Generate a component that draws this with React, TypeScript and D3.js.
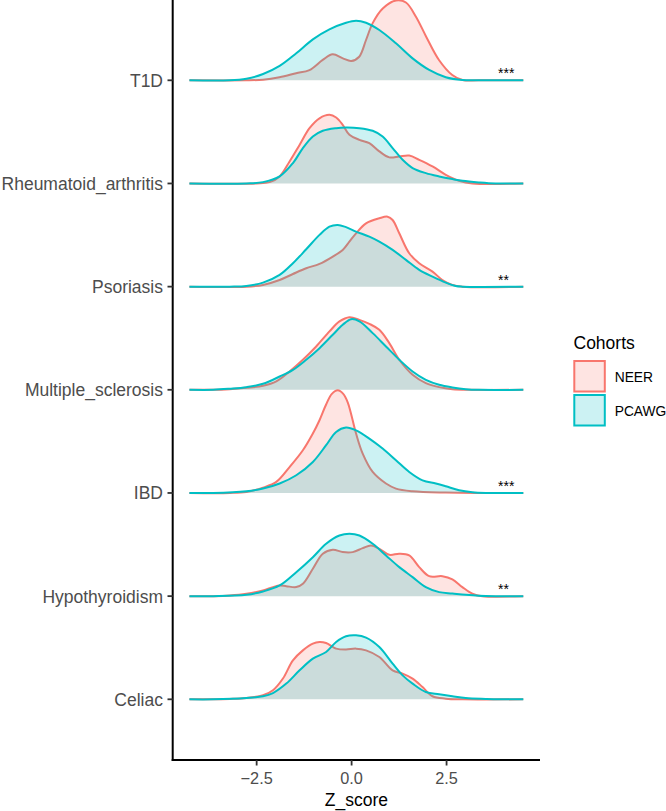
import React from "react";
import * as d3 from "d3";

const categories = ["T1D", "Rheumatoid_arthritis", "Psoriasis", "Multiple_sclerosis", "IBD", "Hypothyroidism", "Celiac"];
const cohorts = ["NEER", "PCAWG"];
const cohortColors = ["#F8766D", "#00BFC4"];
const xTicks = [-2.5, 0, 2.5];
const xTickLabels = ["\u22122.5", "0.0", "2.5"];
const sigLabels = ["***", "", "**", "", "***", "**", ""];
const dataRange = [-4.27, 4.52];

type P = [number, number];

const neerT1D: P[] = [[-2.77, 0], [-2.33, 0.005], [-1.9, 0.023], [-1.46, 0.053], [-1.11, 0.077], [-0.76, 0.153], [-0.5, 0.195], [-0.23, 0.165], [-0.01, 0.145], [0.2, 0.177], [0.38, 0.303], [0.555, 0.43], [0.82, 0.54], [1.17, 0.6], [1.43, 0.585], [1.69, 0.48], [1.96, 0.33], [2.3, 0.153], [2.65, 0.04], [2.92, 0.002], [3.35, 0]];
const pcawgT1D: P[] = [[-3.21, 0], [-2.77, 0.012], [-2.33, 0.047], [-1.895, 0.108], [-1.457, 0.203], [-1.02, 0.308], [-0.584, 0.383], [-0.147, 0.433], [0.117, 0.448], [0.38, 0.433], [0.73, 0.378], [1.168, 0.278], [1.606, 0.165], [2.043, 0.078], [2.48, 0.023], [2.92, 0.002], [3.4, 0]];

const neerRA: P[] = [[-2.507, 0], [-2.157, 0.01], [-1.895, 0.053], [-1.633, 0.165], [-1.37, 0.29], [-1.108, 0.416], [-0.845, 0.49], [-0.583, 0.516], [-0.407, 0.496], [-0.234, 0.441], [-0.058, 0.366], [0.205, 0.328], [0.467, 0.303], [0.73, 0.241], [0.992, 0.196], [1.255, 0.203], [1.517, 0.21], [1.78, 0.178], [2.13, 0.128], [2.48, 0.065], [2.83, 0.02], [3.18, 0]];
const pcawgRA: P[] = [[-2.77, 0], [-2.333, 0.01], [-1.895, 0.053], [-1.545, 0.153], [-1.283, 0.266], [-1.02, 0.353], [-0.758, 0.396], [-0.407, 0.416], [-0.147, 0.421], [0.205, 0.416], [0.555, 0.396], [0.817, 0.353], [1.08, 0.266], [1.343, 0.178], [1.606, 0.116], [1.955, 0.078], [2.305, 0.053], [2.654, 0.033], [2.92, 0.02], [3.35, 0.008], [3.79, 0]];

const neerPso: P[] = [[-2.77, 0], [-2.333, 0.013], [-1.895, 0.05], [-1.545, 0.095], [-1.195, 0.138], [-0.845, 0.171], [-0.496, 0.226], [-0.234, 0.276], [-0.058, 0.338], [0.117, 0.401], [0.38, 0.476], [0.73, 0.514], [0.948, 0.526], [1.08, 0.501], [1.255, 0.401], [1.517, 0.251], [1.78, 0.176], [2.13, 0.113], [2.39, 0.05], [2.654, 0.013], [2.92, 0]];
const pcawgPso: P[] = [[-3.21, 0], [-2.77, 0.005], [-2.333, 0.03], [-1.895, 0.088], [-1.545, 0.176], [-1.195, 0.281], [-0.845, 0.389], [-0.584, 0.451], [-0.365, 0.464], [-0.147, 0.447], [0.117, 0.414], [0.467, 0.376], [0.73, 0.338], [1.08, 0.276], [1.43, 0.201], [1.78, 0.126], [2.13, 0.075], [2.48, 0.03], [2.74, 0.005], [2.92, 0]];

const neerMS: P[] = [[-3.645, 0], [-3.21, 0.005], [-2.77, 0.015], [-2.333, 0.03], [-1.983, 0.063], [-1.633, 0.138], [-1.283, 0.226], [-0.933, 0.326], [-0.583, 0.439], [-0.32, 0.514], [-0.058, 0.546], [0.205, 0.526], [0.467, 0.496], [0.73, 0.451], [0.992, 0.351], [1.255, 0.226], [1.606, 0.113], [1.955, 0.05], [2.305, 0.02], [2.654, 0.005], [3.09, 0]];
const pcawgMS: P[] = [[-3.645, 0], [-3.21, 0.008], [-2.77, 0.02], [-2.333, 0.045], [-1.895, 0.1], [-1.545, 0.15], [-1.195, 0.226], [-0.845, 0.313], [-0.496, 0.414], [-0.234, 0.489], [-0.013, 0.531], [0.205, 0.514], [0.555, 0.426], [0.905, 0.326], [1.255, 0.226], [1.606, 0.138], [1.955, 0.075], [2.305, 0.038], [2.654, 0.018], [3.005, 0.005], [3.35, 0]];

const neerIBD: P[] = [[-3.2, 0], [-2.77, 0.008], [-2.333, 0.04], [-1.983, 0.083], [-1.633, 0.195], [-1.283, 0.321], [-1.02, 0.447], [-0.845, 0.547], [-0.671, 0.665], [-0.52, 0.745], [-0.365, 0.772], [-0.22, 0.745], [-0.1, 0.68], [0.117, 0.447], [0.292, 0.296], [0.555, 0.158], [0.905, 0.071], [1.168, 0.033], [1.606, 0.013], [2.48, 0.003], [3.35, 0]];
const pcawgIBD: P[] = [[-3.645, 0], [-2.77, 0.013], [-2.333, 0.033], [-1.895, 0.071], [-1.457, 0.133], [-1.02, 0.233], [-0.671, 0.359], [-0.407, 0.459], [-0.147, 0.492], [0.117, 0.471], [0.467, 0.409], [0.817, 0.334], [1.168, 0.246], [1.517, 0.158], [1.868, 0.095], [2.218, 0.071], [2.48, 0.05], [2.83, 0.02], [3.18, 0.005], [3.53, 0]];

const neerHypo: P[] = [[-3.6, 0], [-3.21, 0.005], [-2.77, 0.018], [-2.333, 0.043], [-2.07, 0.068], [-1.895, 0.08], [-1.72, 0.075], [-1.457, 0.068], [-1.283, 0.093], [-1.02, 0.206], [-0.758, 0.319], [-0.496, 0.349], [-0.234, 0.331], [0.03, 0.331], [0.292, 0.361], [0.511, 0.381], [0.73, 0.356], [0.992, 0.311], [1.255, 0.319], [1.517, 0.306], [1.78, 0.218], [2.043, 0.15], [2.39, 0.15], [2.654, 0.126], [2.916, 0.068], [3.18, 0.018], [3.44, 0]];
const pcawgHypo: P[] = [[-3.645, 0], [-2.77, 0.01], [-2.333, 0.035], [-1.895, 0.08], [-1.457, 0.18], [-1.02, 0.293], [-0.671, 0.394], [-0.32, 0.456], [-0.058, 0.469], [0.205, 0.456], [0.555, 0.394], [0.905, 0.306], [1.255, 0.218], [1.606, 0.143], [1.955, 0.068], [2.305, 0.03], [2.654, 0.02], [3.005, 0.01], [3.35, 0.003], [3.79, 0]];

const neerCeliac: P[] = [[-3.645, 0], [-3.21, 0.003], [-2.77, 0.01], [-2.333, 0.03], [-2.07, 0.068], [-1.808, 0.156], [-1.545, 0.293], [-1.283, 0.368], [-1.02, 0.419], [-0.845, 0.431], [-0.671, 0.423], [-0.407, 0.381], [-0.147, 0.374], [0.117, 0.381], [0.38, 0.368], [0.73, 0.318], [1.08, 0.218], [1.343, 0.193], [1.606, 0.156], [1.868, 0.092], [2.13, 0.023], [2.48, 0.005], [2.92, 0]];
const pcawgCeliac: P[] = [[-3.645, 0], [-2.77, 0.01], [-2.333, 0.023], [-2.07, 0.047], [-1.72, 0.118], [-1.37, 0.218], [-1.02, 0.306], [-0.671, 0.356], [-0.407, 0.431], [-0.147, 0.474], [0.117, 0.481], [0.38, 0.464], [0.73, 0.393], [1.08, 0.268], [1.343, 0.18], [1.606, 0.118], [1.955, 0.055], [2.305, 0.038], [2.654, 0.023], [3.005, 0.01], [3.53, 0.003], [3.88, 0]];

const neerSeries: P[][] = [neerT1D, neerRA, neerPso, neerMS, neerIBD, neerHypo, neerCeliac];
const pcawgSeries: P[][] = [pcawgT1D, pcawgRA, pcawgPso, pcawgMS, pcawgIBD, pcawgHypo, pcawgCeliac];

const W = 666;
const H = 811;
const FONT = "'Liberation Sans', Arial, Helvetica, sans-serif";

export default function App() {
  const x = d3.scaleLinear().domain([-4.71, 4.96]).range([172.7, 540]);
  const y = d3.scalePoint<string>().domain(categories).range([80.3, 699.3]);
  const h = d3.scaleLinear().domain([0, 1]).range([0, 133]);

  const full = (pts: P[]): P[] => {
    const out: P[] = [];
    if (pts[0][0] > dataRange[0]) out.push([dataRange[0], 0]);
    out.push(...pts);
    if (pts[pts.length - 1][0] < dataRange[1]) out.push([dataRange[1], 0]);
    return out;
  };

  const curve = d3.curveCatmullRom.alpha(0.5);

  const ridges: React.ReactNode[] = [];
  categories.forEach((cat, i) => {
    const base = y(cat) as number;
    const top = (d: P) => Math.min(base, base - h(d[1]));
    const area = d3
      .area<P>()
      .x((d) => x(d[0]))
      .y0(base)
      .y1(top)
      .curve(curve);
    const line = d3
      .line<P>()
      .x((d) => x(d[0]))
      .y(top)
      .curve(curve);
    [neerSeries[i], pcawgSeries[i]].forEach((s, j) => {
      const pts = full(s);
      ridges.push(
        <g key={cat + j}>
          <path d={area(pts) || ""} fill={cohortColors[j]} fillOpacity={0.2} stroke="none" />
          <path d={line(pts) || ""} fill="none" stroke={cohortColors[j]} strokeWidth={2} strokeLinejoin="round" />
        </g>
      );
    });
  });

  return (
    <svg width={W} height={H} style={{ position: "absolute", left: 0, top: 0, background: "#fff" }} fontFamily={FONT}>
      <rect x={0} y={0} width={W} height={H} fill="#fff" />
      {ridges}
      {categories.map((cat, i) =>
        sigLabels[i] ? (
          <text key={"s" + cat} x={498} y={(y(cat) as number) - 2} fontSize={14} fill="#000">
            {sigLabels[i]}
          </text>
        ) : null
      )}
      {/* axes */}
      <line x1={172.7} x2={172.7} y1={0} y2={761} stroke="#000" strokeWidth={2} />
      <line x1={171.7} x2={540} y1={760} y2={760} stroke="#000" strokeWidth={2} />
      {categories.map((cat) => (
        <g key={"yt" + cat}>
          <line x1={167.5} x2={172.7} y1={y(cat) as number} y2={y(cat) as number} stroke="#333" strokeWidth={1.8} />
          <text x={163} y={(y(cat) as number) + 6.5} textAnchor="end" fontSize={17.5} fill="#4D4D4D">
            {cat}
          </text>
        </g>
      ))}
      {xTicks.map((t, i) => (
        <g key={"xt" + t}>
          <line x1={x(t)} x2={x(t)} y1={760} y2={765.5} stroke="#333" strokeWidth={1.8} />
          <text x={x(t)} y={784.3} textAnchor="middle" fontSize={16.3} fill="#4D4D4D">
            {xTickLabels[i]}
          </text>
        </g>
      ))}
      <text x={356.4} y={806} textAnchor="middle" fontSize={17.5} fill="#000">
        Z_score
      </text>
      {/* legend */}
      <text x={573.5} y={349.3} fontSize={17.5} fill="#000">
        Cohorts
      </text>
      {cohorts.map((c, j) => (
        <g key={"lg" + c}>
          <rect x={574.3} y={361 + j * 34} width={30.5} height={30.5} fill={cohortColors[j]} fillOpacity={0.2} stroke={cohortColors[j]} strokeWidth={2} />
          <text x={614.7} y={381.7 + j * 34} fontSize={13.8} fill="#000">
            {c}
          </text>
        </g>
      ))}
    </svg>
  );
}
